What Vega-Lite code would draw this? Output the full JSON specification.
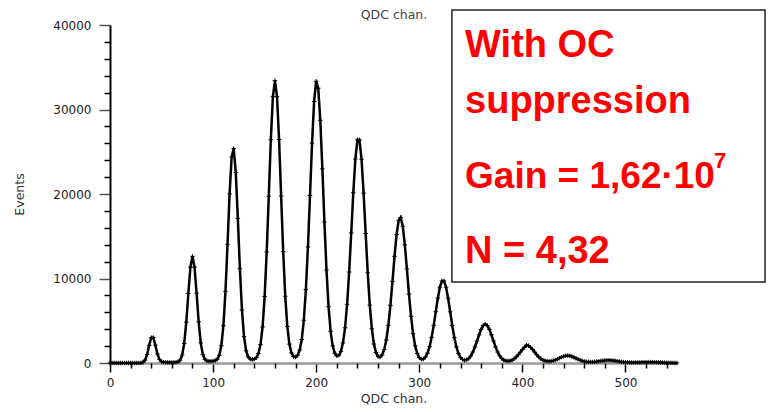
{
  "$schema": "https://vega.github.io/schema/vega-lite/v6.json",
  "width": 567,
  "height": 338,
  "autosize": {"type": "none"},
  "padding": {"left": 110, "top": 25, "right": 92, "bottom": 49},
  "background": "white",
  "config": {"view": {"stroke": null}, "axis": {"labelFont": "DejaVu Sans", "titleFont": "DejaVu Sans", "grid": false}},
  "datasets": {
    "spectrum": [
      {"chan":0,"events":0},{"chan":2,"events":0},{"chan":4,"events":0},{"chan":6,"events":0},{"chan":8,"events":0},{"chan":10,"events":0},{"chan":12,"events":0},{"chan":14,"events":0},{"chan":16,"events":0},{"chan":18,"events":0},{"chan":20,"events":0},{"chan":22,"events":0},{"chan":24,"events":0},{"chan":26,"events":0},{"chan":28,"events":1},{"chan":30,"events":12},{"chan":32,"events":83},{"chan":34,"events":342},{"chan":36,"events":1007},{"chan":38,"events":2083},{"chan":40,"events":3001},{"chan":42,"events":3016},{"chan":44,"events":2121},{"chan":46,"events":1068},{"chan":48,"events":426},{"chan":50,"events":168},{"chan":52,"events":99},{"chan":54,"events":81},{"chan":56,"events":73},{"chan":58,"events":67},{"chan":60,"events":60},{"chan":62,"events":69},{"chan":64,"events":85},{"chan":66,"events":142},{"chan":68,"events":341},{"chan":70,"events":930},{"chan":72,"events":2314},{"chan":74,"events":4831},{"chan":76,"events":8222},{"chan":78,"events":11335},{"chan":80,"events":12625},{"chan":82,"events":11351},{"chan":84,"events":8255},{"chan":86,"events":4880},{"chan":88,"events":2380},{"chan":90,"events":1012},{"chan":92,"events":440},{"chan":94,"events":257},{"chan":96,"events":217},{"chan":98,"events":220},{"chan":100,"events":238},{"chan":102,"events":288},{"chan":104,"events":446},{"chan":106,"events":906},{"chan":108,"events":2044},{"chan":110,"events":4408},{"chan":112,"events":8452},{"chan":114,"events":14037},{"chan":116,"events":20009},{"chan":118,"events":24384},{"chan":120,"events":25374},{"chan":122,"events":22546},{"chan":124,"events":17122},{"chan":126,"events":11147},{"chan":128,"events":6268},{"chan":130,"events":3114},{"chan":132,"events":1449},{"chan":134,"events":726},{"chan":136,"events":471},{"chan":138,"events":415},{"chan":140,"events":462},{"chan":142,"events":643},{"chan":144,"events":1115},{"chan":146,"events":2177},{"chan":148,"events":4271},{"chan":150,"events":7863},{"chan":152,"events":13148},{"chan":154,"events":19730},{"chan":156,"events":26427},{"chan":158,"events":31511},{"chan":160,"events":33420},{"chan":162,"events":31519},{"chan":164,"events":26443},{"chan":166,"events":19754},{"chan":168,"events":13180},{"chan":170,"events":7903},{"chan":172,"events":4320},{"chan":174,"events":2238},{"chan":176,"events":1196},{"chan":178,"events":770},{"chan":180,"events":702},{"chan":182,"events":917},{"chan":184,"events":1525},{"chan":186,"events":2784},{"chan":188,"events":5060},{"chan":190,"events":8680},{"chan":192,"events":13729},{"chan":194,"events":19831},{"chan":196,"events":26018},{"chan":198,"events":30952},{"chan":200,"events":33347},{"chan":202,"events":32524},{"chan":204,"events":28721},{"chan":206,"events":22977},{"chan":208,"events":16676},{"chan":210,"events":11011},{"chan":212,"events":6659},{"chan":214,"events":3744},{"chan":216,"events":2030},{"chan":218,"events":1163},{"chan":220,"events":841},{"chan":222,"events":910},{"chan":224,"events":1373},{"chan":226,"events":2381},{"chan":228,"events":4165},{"chan":230,"events":6944},{"chan":232,"events":10769},{"chan":234,"events":15387},{"chan":236,"events":20149},{"chan":238,"events":24138},{"chan":240,"events":26419},{"chan":242,"events":26409},{"chan":244,"events":24110},{"chan":246,"events":20103},{"chan":248,"events":15323},{"chan":250,"events":10687},{"chan":252,"events":6844},{"chan":254,"events":4050},{"chan":256,"events":2254},{"chan":258,"events":1240},{"chan":260,"events":773},{"chan":262,"events":697},{"chan":264,"events":957},{"chan":266,"events":1596},{"chan":268,"events":2728},{"chan":270,"events":4462},{"chan":272,"events":6818},{"chan":274,"events":9657},{"chan":276,"events":12625},{"chan":278,"events":15211},{"chan":280,"events":16870},{"chan":282,"events":17221},{"chan":284,"events":16176},{"chan":286,"events":13982},{"chan":288,"events":11127},{"chan":290,"events":8156},{"chan":292,"events":5517},{"chan":294,"events":3458},{"chan":296,"events":2024},{"chan":298,"events":1134},{"chan":300,"events":651},{"chan":302,"events":456},{"chan":304,"events":478},{"chan":306,"events":704},{"chan":308,"events":1170},{"chan":310,"events":1933},{"chan":312,"events":3034},{"chan":314,"events":4453},{"chan":316,"events":6072},{"chan":318,"events":7673},{"chan":320,"events":8972},{"chan":322,"events":9702},{"chan":324,"events":9701},{"chan":326,"events":8967},{"chan":328,"events":7664},{"chan":330,"events":6058},{"chan":332,"events":4435},{"chan":334,"events":3012},{"chan":336,"events":1906},{"chan":338,"events":1136},{"chan":340,"events":660},{"chan":342,"events":410},{"chan":344,"events":325},{"chan":346,"events":372},{"chan":348,"events":542},{"chan":350,"events":847},{"chan":352,"events":1298},{"chan":354,"events":1895},{"chan":356,"events":2597},{"chan":358,"events":3330},{"chan":360,"events":3978},{"chan":362,"events":4430},{"chan":364,"events":4592},{"chan":366,"events":4432},{"chan":368,"events":3982},{"chan":370,"events":3335},{"chan":372,"events":2604},{"chan":374,"events":1904},{"chan":376,"events":1307},{"chan":378,"events":854},{"chan":380,"events":542},{"chan":382,"events":351},{"chan":384,"events":253},{"chan":386,"events":226},{"chan":388,"events":257},{"chan":390,"events":345},{"chan":392,"events":492},{"chan":394,"events":702},{"chan":396,"events":969},{"chan":398,"events":1275},{"chan":400,"events":1586},{"chan":402,"events":1858},{"chan":404,"events":2110},{"chan":406,"events":2044},{"chan":408,"events":1858},{"chan":410,"events":1586},{"chan":412,"events":1276},{"chan":414,"events":972},{"chan":416,"events":706},{"chan":418,"events":497},{"chan":420,"events":350},{"chan":422,"events":257},{"chan":424,"events":210},{"chan":426,"events":202},{"chan":428,"events":226},{"chan":430,"events":279},{"chan":432,"events":357},{"chan":434,"events":458},{"chan":436,"events":571},{"chan":438,"events":686},{"chan":440,"events":783},{"chan":442,"events":850},{"chan":444,"events":872},{"chan":446,"events":847},{"chan":448,"events":777},{"chan":450,"events":677},{"chan":452,"events":559},{"chan":454,"events":442},{"chan":456,"events":337},{"chan":458,"events":253},{"chan":460,"events":191},{"chan":462,"events":149},{"chan":464,"events":126},{"chan":466,"events":120},{"chan":468,"events":125},{"chan":470,"events":141},{"chan":472,"events":166},{"chan":474,"events":197},{"chan":476,"events":231},{"chan":478,"events":265},{"chan":480,"events":293},{"chan":482,"events":311},{"chan":484,"events":316},{"chan":486,"events":307},{"chan":488,"events":285},{"chan":490,"events":253},{"chan":492,"events":215},{"chan":494,"events":176},{"chan":496,"events":140},{"chan":498,"events":110},{"chan":500,"events":86},{"chan":502,"events":71},{"chan":504,"events":60},{"chan":506,"events":56},{"chan":508,"events":55},{"chan":510,"events":59},{"chan":512,"events":65},{"chan":514,"events":73},{"chan":516,"events":82},{"chan":518,"events":91},{"chan":520,"events":97},{"chan":522,"events":102},{"chan":524,"events":102},{"chan":526,"events":99},{"chan":528,"events":92},{"chan":530,"events":83},{"chan":532,"events":71},{"chan":534,"events":59},{"chan":536,"events":48},{"chan":538,"events":37},{"chan":540,"events":28},{"chan":542,"events":22},{"chan":544,"events":17},{"chan":546,"events":13},{"chan":548,"events":11},{"chan":550,"events":9}
    ]
  },
  "layer": [
    {
      "data": {"name": "spectrum"},
      "mark": {"type": "line", "color": "#000", "strokeWidth": 2.5},
      "encoding": {
        "x": {"field": "chan", "type": "quantitative", "scale": {"domain": [0, 550], "nice": false, "zero": false},
          "axis": {"orient": "bottom", "values": [0, 100, 200, 300, 400, 500], "title": "QDC chan.", "titleFontSize": 12.5, "titleFontWeight": "normal", "titleColor": "#333", "titlePadding": 4, "labelFontSize": 12, "labelColor": "#222", "labelPadding": 5, "labelFlush": false, "labelOverlap": false, "tickSize": 9, "tickWidth": 1.5, "tickColor": "#000", "domainColor": "#999", "domainWidth": 2.5}},
        "y": {"field": "events", "type": "quantitative", "scale": {"domain": [0, 40000], "nice": false},
          "axis": {"orient": "left", "values": [0, 10000, 20000, 30000, 40000], "format": "d", "title": "Events", "titleFontSize": 12.5, "titleFontWeight": "normal", "titleColor": "#333", "titlePadding": 26, "labelFontSize": 12, "labelColor": "#222", "labelPadding": 8, "tickSize": 11, "tickWidth": 1.5, "tickColor": "#555", "domainColor": "#000", "domainWidth": 2}}
      }
    },
    {
      "data": {"name": "spectrum"},
      "mark": {"type": "point", "shape": "M-1,0L1,0M0,-1L0,1", "size": 20, "filled": false, "stroke": "#000", "strokeWidth": 1, "opacity": 1},
      "encoding": {
        "x": {"field": "chan", "type": "quantitative",
          "axis": {"orient": "bottom", "values": [20, 40, 60, 80, 120, 140, 160, 180, 220, 240, 260, 280, 320, 340, 360, 380, 420, 440, 460, 480, 520, 540], "labels": false, "domain": false, "title": null, "tickSize": 5, "tickWidth": 1.5, "tickColor": "#000"}},
        "y": {"field": "events", "type": "quantitative",
          "axis": {"orient": "left", "values": [2000, 4000, 6000, 8000, 12000, 14000, 16000, 18000, 22000, 24000, 26000, 28000, 32000, 34000, 36000, 38000], "labels": false, "domain": false, "title": null, "tickSize": 6, "tickWidth": 1.5, "tickColor": "#000"}}
      }
    },
    {
      "data": {"values": [{}]},
      "mark": {"type": "rect", "fill": "white", "stroke": "#222", "strokeWidth": 1.5},
      "encoding": {
        "x": {"datum": 331.7, "type": "quantitative", "axis": null},
        "x2": {"datum": 635.4},
        "y": {"datum": 41775, "type": "quantitative", "axis": null},
        "y2": {"datum": 9586}
      }
    },
    {
      "data": {"values": [{}]},
      "mark": {"type": "text", "text": "With OC", "font": "Liberation Sans", "fontWeight": "bold", "fontSize": 38, "color": "#ff0000", "align": "left", "baseline": "alphabetic"},
      "encoding": {
        "x": {"datum": 344.4, "type": "quantitative",
          "axis": {"orient": "top", "title": "QDC chan.", "labels": false, "ticks": false, "domain": false, "titleFont": "DejaVu Sans", "titleFontSize": 12.5, "titleFontWeight": "normal", "titleColor": "#444", "titlePadding": 4}},
        "y": {"datum": 36213, "type": "quantitative", "axis": null}
      }
    },
    {
      "data": {"values": [{}]},
      "mark": {"type": "text", "text": "suppression", "font": "Liberation Sans", "fontWeight": "bold", "fontSize": 38, "color": "#ff0000", "align": "left", "baseline": "alphabetic"},
      "encoding": {"x": {"datum": 344.4, "type": "quantitative", "axis": null}, "y": {"datum": 29586, "type": "quantitative", "axis": null}}
    },
    {
      "data": {"values": [{}]},
      "mark": {"type": "text", "text": "Gain = 1,62·10", "font": "Liberation Sans", "fontWeight": "bold", "fontSize": 37, "color": "#ff0000", "align": "left", "baseline": "alphabetic"},
      "encoding": {"x": {"datum": 344.4, "type": "quantitative", "axis": null}, "y": {"datum": 20710, "type": "quantitative", "axis": null}}
    },
    {
      "data": {"values": [{}]},
      "mark": {"type": "text", "text": "7", "font": "Liberation Sans", "fontWeight": "bold", "fontSize": 22, "color": "#ff0000", "align": "left", "baseline": "alphabetic"},
      "encoding": {"x": {"datum": 586, "type": "quantitative", "axis": null}, "y": {"datum": 23077, "type": "quantitative", "axis": null}}
    },
    {
      "data": {"values": [{}]},
      "mark": {"type": "text", "text": "N = 4,32", "font": "Liberation Sans", "fontWeight": "bold", "fontSize": 38, "color": "#ff0000", "align": "left", "baseline": "alphabetic"},
      "encoding": {"x": {"datum": 344.4, "type": "quantitative", "axis": null}, "y": {"datum": 11834, "type": "quantitative", "axis": null}}
    }
  ],
  "resolve": {"axis": {"x": "independent", "y": "independent"}}
}
